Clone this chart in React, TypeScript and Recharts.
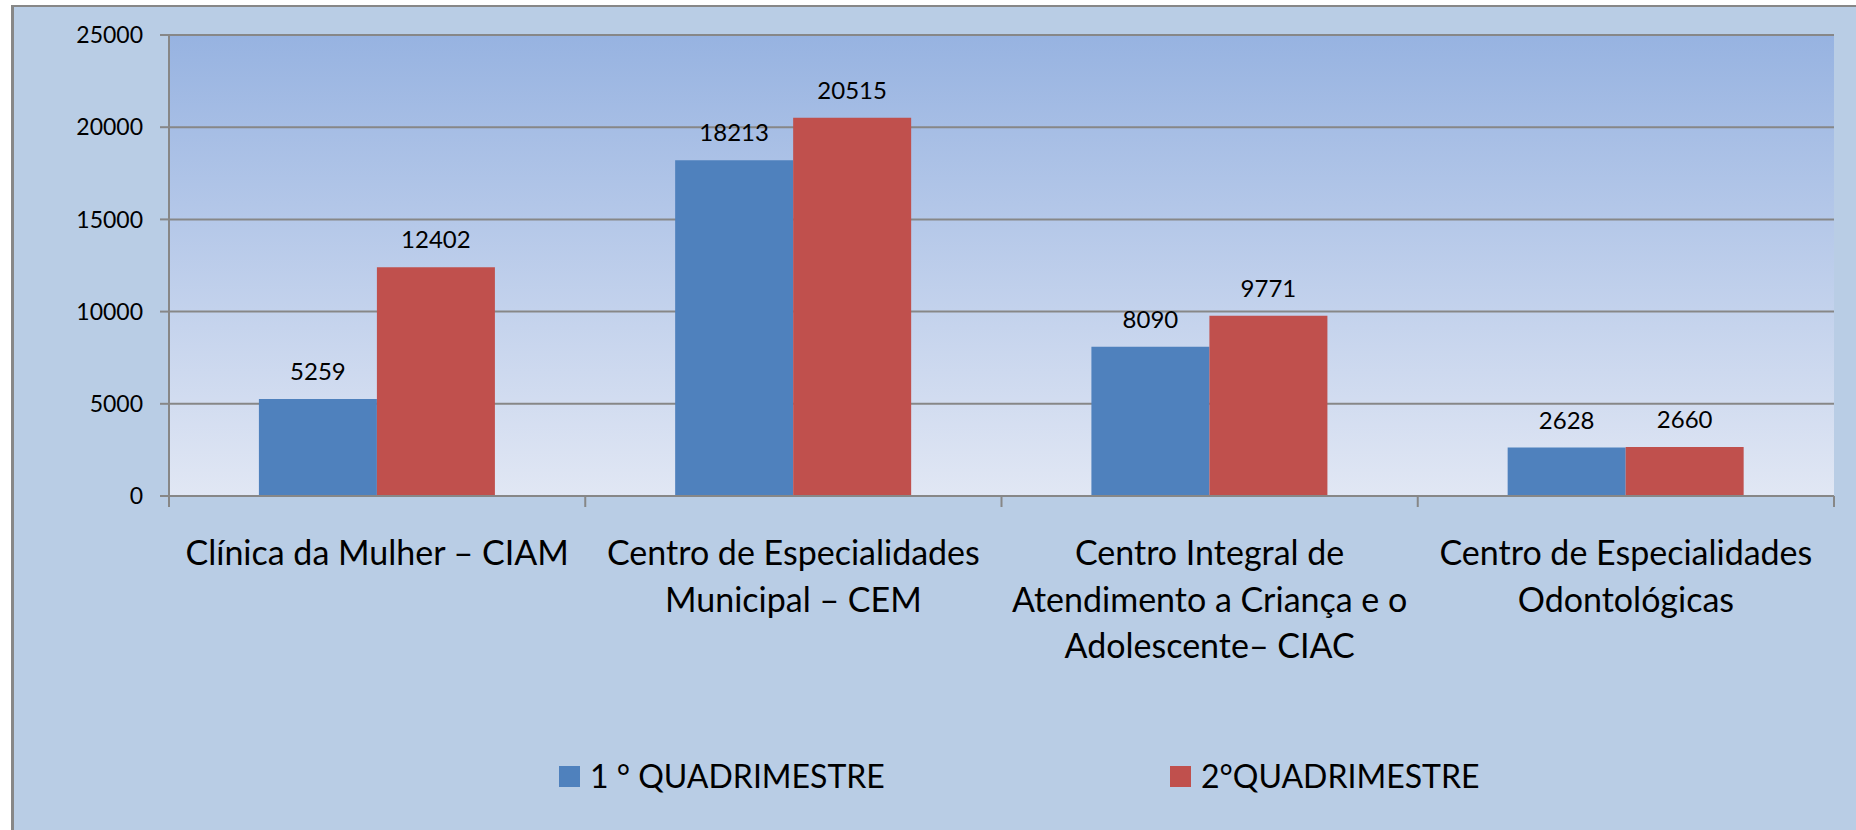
import {
  Bar,
  BarChart,
  CartesianGrid,
  LabelList,
  Legend,
  XAxis,
  YAxis,
} from 'recharts';

const categories = [
  'Clínica da Mulher – CIAM',
  'Centro de Especialidades\nMunicipal – CEM',
  'Centro Integral de\nAtendimento a Criança e o\nAdolescente– CIAC',
  'Centro de Especialidades\nOdontológicas',
];
const quad1 = [5259, 18213, 8090, 2628];
const quad2 = [12402, 20515, 9771, 2660];
const seriesNames = ['1 ° QUADRIMESTRE', '2°QUADRIMESTRE'];
const yTicks = [0, 5000, 10000, 15000, 20000, 25000];

const BLUE = '#4F81BD';
const RED = '#C0504D';
const AXIS = '#878787';
const FONT = 'Lato, "Open Sans", sans-serif';

const data = categories.map((name, i) => ({ name, q1: quad1[i], q2: quad2[i] }));

/** Category label with Excel-style tick marks on the band edges. */
function CategoryTick(props: any) {
  const { x, y, payload, index } = props;
  const half = payload?.offset ? payload.offset : 208;
  const lines = String(payload.value).split('\n');
  return (
    <g>
      <line x1={x - half} x2={x - half} y1={y} y2={y + 11} stroke={AXIS} strokeWidth={2} />
      {index === categories.length - 1 && (
        <line x1={x + half} x2={x + half} y1={y} y2={y + 11} stroke={AXIS} strokeWidth={2} />
      )}
      <text x={x} y={y + 69} textAnchor="middle" fontSize={34} fontFamily={FONT} fill="#000">
        {lines.map((line, i) => (
          <tspan key={i} x={x} dy={i === 0 ? 0 : 46.7}>
            {line}
          </tspan>
        ))}
      </text>
    </g>
  );
}

function LegendContent() {
  const items = [
    { label: seriesNames[0], color: BLUE, left: 559 },
    { label: seriesNames[1], color: RED, left: 1170 },
  ];
  return (
    <div style={{ position: 'relative', height: 38 }}>
      {items.map((it) => (
        <div
          key={it.label}
          style={{
            position: 'absolute',
            left: it.left,
            top: 0,
            display: 'flex',
            alignItems: 'center',
            height: 38,
            whiteSpace: 'nowrap',
          }}
        >
          <span style={{ width: 21, height: 21, background: it.color, marginRight: 10 }} />
          <span style={{ fontFamily: FONT, fontSize: 32, lineHeight: '38px', color: '#000' }}>
            {it.label}
          </span>
        </div>
      ))}
    </div>
  );
}

export default function App() {
  return (
    <div style={{ position: 'absolute', left: 0, top: 0, width: 1856, height: 830, background: '#fff' }}>
      <div
        style={{
          position: 'absolute',
          left: 11,
          top: 5,
          width: 1845,
          height: 825,
          background: '#B9CDE5',
          borderLeft: `3px solid ${AXIS}`,
          borderTop: `2px solid ${AXIS}`,
          boxSizing: 'border-box',
        }}
      />
      <div style={{ position: 'absolute', left: 0, top: 0 }}>
        <BarChart
          width={1856}
          height={830}
          data={data}
          margin={{ top: 35, right: 22, left: 0, bottom: 0 }}
          barCategoryGap="21.6%"
          barGap={0}
        >
          <defs>
            <linearGradient id="plot-bg" x1="0" y1="0" x2="0" y2="1">
              <stop offset="0%" stopColor="#97B3E1" />
              <stop offset="100%" stopColor="#E1E7F4" />
            </linearGradient>
          </defs>
          <CartesianGrid
            vertical={false}
            fill="url(#plot-bg)"
            stroke={AXIS}
            strokeWidth={2}
          />
          <XAxis
            dataKey="name"
            interval={0}
            height={334}
            tickSize={0}
            tickMargin={0}
            tickLine={false}
            axisLine={{ stroke: AXIS, strokeWidth: 2 }}
            tick={<CategoryTick />}
          />
          <YAxis
            width={169}
            domain={[0, 25000]}
            ticks={yTicks}
            interval={0}
            tickSize={9}
            tickMargin={17}
            axisLine={{ stroke: AXIS, strokeWidth: 2 }}
            tickLine={{ stroke: AXIS, strokeWidth: 2 }}
            tick={{ fill: '#000', fontSize: 23, fontFamily: FONT }}
          />
          <Legend
            layout="horizontal"
            verticalAlign="middle"
            align="center"
            wrapperStyle={{ top: 757, left: 0, width: 1856, height: 38 }}
            content={<LegendContent />}
          />
          <Bar dataKey="q1" name={seriesNames[0]} fill={BLUE} isAnimationActive={false}>
            <LabelList
              dataKey="q1"
              position="top"
              offset={19}
              fill="#000"
              fontSize={24}
              fontFamily={FONT}
            />
          </Bar>
          <Bar dataKey="q2" name={seriesNames[1]} fill={RED} isAnimationActive={false}>
            <LabelList
              dataKey="q2"
              position="top"
              offset={19}
              fill="#000"
              fontSize={24}
              fontFamily={FONT}
            />
          </Bar>
        </BarChart>
      </div>
    </div>
  );
}
